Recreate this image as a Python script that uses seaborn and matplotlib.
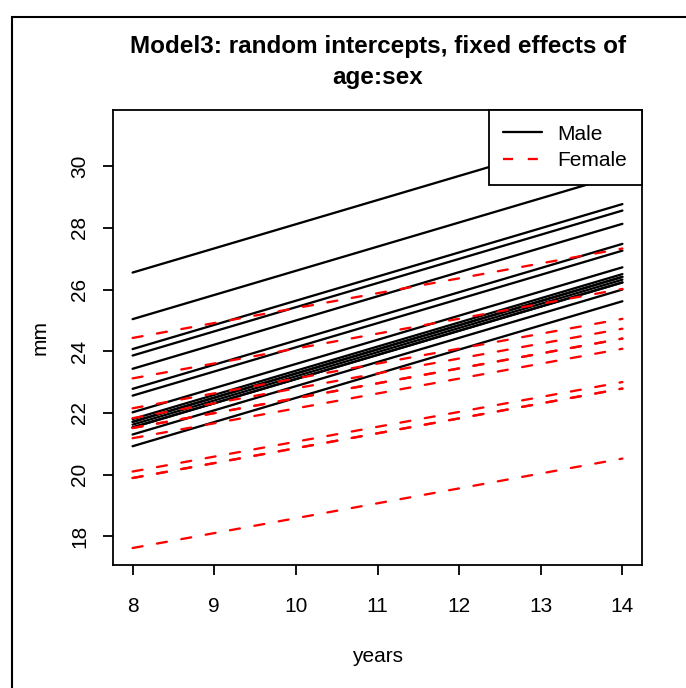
import matplotlib
matplotlib.use("Agg")
import matplotlib.pyplot as plt
from matplotlib.lines import Line2D
from matplotlib.patches import Rectangle
import pandas as pd
import seaborn as sns

# fitted values (mm) at age 8 and age 14
ages = [8, 14]
male_start = [26.55, 25.04, 24.07, 23.86, 23.43, 22.78, 22.56, 22.02,
              21.80, 21.71, 21.71, 21.62, 21.53, 21.53, 21.30, 20.92]
male_end = [31.25, 29.74, 28.77, 28.56, 28.13, 27.48, 27.26, 26.72,
            26.50, 26.41, 26.41, 26.32, 26.23, 26.23, 26.00, 25.62]
female_start = [24.43, 23.12, 22.15, 21.83, 21.51, 21.51, 21.18,
                20.10, 19.89, 19.89, 17.62]
female_end = [27.33, 26.02, 25.05, 24.73, 24.41, 24.41, 24.08,
              23.00, 22.79, 22.79, 20.52]

rows = []
for i, (a, b) in enumerate(zip(male_start, male_end)):
    rows.append(("M%02d" % (i + 1), "Male", ages[0], a))
    rows.append(("M%02d" % (i + 1), "Male", ages[1], b))
for i, (a, b) in enumerate(zip(female_start, female_end)):
    rows.append(("F%02d" % (i + 1), "Female", ages[0], a))
    rows.append(("F%02d" % (i + 1), "Female", ages[1], b))
df = pd.DataFrame(rows, columns=["subject", "sex", "age", "distance"])

sns.set_style("ticks")
plt.rcParams["font.family"] = ["Liberation Sans", "DejaVu Sans"]
plt.rcParams["text.color"] = "black"
plt.rcParams["axes.labelcolor"] = "black"

fig = plt.figure(figsize=(6.86, 6.88), dpi=100)
ax = fig.add_axes([113 / 686, 1 - 565 / 688, 529 / 686, 455 / 688])

sns.lineplot(data=df, x="age", y="distance", units="subject", hue="sex",
             style="sex", estimator=None, ax=ax, legend=False,
             palette={"Male": "black", "Female": "red"},
             dashes={"Male": "", "Female": (4.4, 6.4)}, linewidth=1.65)
for ln in ax.get_lines():
    ln.set_dash_capstyle("round")
    ln.set_solid_capstyle("round")

ax.set_xlim(7.76, 14.24)
ax.set_ylim(17.07, 31.82)
ax.set_xticks(range(8, 15))
ax.set_yticks(range(18, 31, 2))
ax.set_yticklabels([str(v) for v in range(18, 31, 2)], rotation=90, va="center")
ax.tick_params(direction="out", length=7, width=1.3, labelsize=15,
               color="black", labelcolor="black")
ax.tick_params(axis="x", pad=16)
ax.tick_params(axis="y", pad=10)
for s in ax.spines.values():
    s.set_visible(True)
    s.set_linewidth(1.3)
    s.set_color("black")
ax.set_xlabel("years", fontsize=15, labelpad=22)
ax.set_ylabel("mm", fontsize=15, labelpad=15)

fig.text(378 / 686, 1 - 62 / 688,
         "Model3: random intercepts, fixed effects of\nage:sex",
         ha="center", va="center", fontsize=17.5, fontweight="bold",
         linespacing=1.4)

handles = [Line2D([], [], color="black", lw=1.65),
           Line2D([], [], color="red", lw=1.65, ls=(0, (4.4, 6.4)))]
leg = ax.legend(handles, ["Male", "Female"], loc="upper right",
                fontsize=15, frameon=True, fancybox=False,
                borderaxespad=0, handlelength=1.85, borderpad=0.7,
                labelspacing=0.38, handletextpad=0.75)
leg.get_frame().set_edgecolor("black")
leg.get_frame().set_linewidth(1.3)
leg.get_frame().set_alpha(1)

fig.patches.append(Rectangle((12 / 686, -0.1), 1.2, 1 - 17 / 688 + 0.1,
                             transform=fig.transFigure, fill=False,
                             edgecolor="black", linewidth=1.5))

fig.savefig("out.png", dpi=100)
